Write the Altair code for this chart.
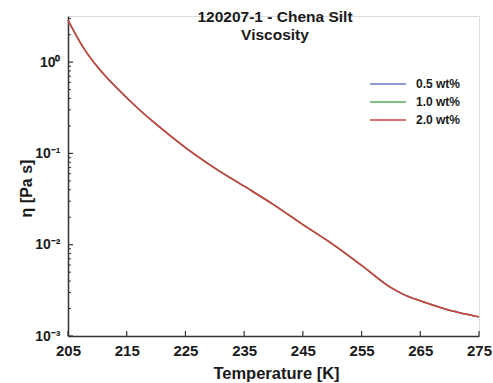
import altair as alt
import pandas as pd

# ---- data ----
temperature = [205, 207.5, 210, 212.5, 215, 217.5, 220, 225, 230, 235, 240, 245,
               250, 255, 260, 262.5, 265, 267.5, 270, 272.5, 275]
eta_05 = [2.88, 1.48, 0.89, 0.589, 0.407, 0.288, 0.209, 0.116, 0.0692, 0.0437, 0.0275,
          0.0166, 0.01023, 0.00594, 0.00339, 0.00279, 0.00243, 0.00214, 0.00191, 0.00175, 0.00162]
eta_10 = [2.88, 1.48, 0.89, 0.589, 0.407, 0.288, 0.209, 0.116, 0.0692, 0.0437, 0.0275,
          0.0166, 0.01023, 0.00594, 0.00339, 0.00279, 0.00243, 0.00214, 0.00191, 0.00175, 0.00162]
eta_20 = [2.88, 1.48, 0.89, 0.589, 0.407, 0.288, 0.209, 0.116, 0.0692, 0.0437, 0.0275,
          0.0166, 0.01023, 0.00594, 0.00339, 0.00279, 0.00243, 0.00214, 0.00191, 0.00175, 0.00162]
series_names = ["0.5 wt%", "1.0 wt%", "2.0 wt%"]
series_colors = ["#6a7cc4", "#57a85a", "#d2423f"]

x_ticks = [205, 215, 225, 235, 245, 255, 265, 275]
y_major = [0.001, 0.01, 0.1, 1]
y_major_labels = ["10⁻³", "10⁻²", "10⁻¹", "10⁰"]
y_minor = [0.002, 0.003, 0.004, 0.005, 0.006, 0.007, 0.008, 0.009,
           0.02, 0.03, 0.04, 0.05, 0.06, 0.07, 0.08, 0.09,
           0.2, 0.3, 0.4, 0.5, 0.6, 0.7, 0.8, 0.9, 2, 3]
title_text = "120207-1 - Chena Silt\nViscosity"

rows = []
for name, vals in zip(series_names, [eta_05, eta_10, eta_20]):
    for t, v in zip(temperature, vals):
        rows.append({"T": t, "eta": v, "series": name})
df = pd.DataFrame(rows)

FONT = "Liberation Sans"
AX = "#333333"
W, H = 411, 320

xscale = alt.Scale(domain=[205, 275], nice=False, zero=False)
yscale = alt.Scale(type="log", domain=[0.001, 3.2], nice=False)

label_expr = " : ".join(
    f"datum.value > {v * 0.5} ? '{l}'" for v, l in zip(reversed(y_major[1:]), reversed(y_major_labels[1:]))
) + f" : '{y_major_labels[0]}'"

lines = alt.Chart(df).mark_line(strokeWidth=1.5, interpolate="monotone").encode(
    x=alt.X("T:Q", scale=xscale,
            axis=alt.Axis(values=x_ticks, title="Temperature [K]", ticks=False, tickSize=0,
                          grid=False, domainColor=AX, domainWidth=1.5,
                          labelFont=FONT, labelFontSize=15, labelFontWeight="bold",
                          labelColor="#1a1a1a", labelPadding=7, labelFlush=False,
                          titleFont=FONT, titleFontSize=16.5, titleFontWeight="bold",
                          titleColor="#1a1a1a", titleX=208, titleY=42,
                          titleBaseline="alphabetic", titleAlign="center")),
    y=alt.Y("eta:Q", scale=yscale,
            axis=alt.Axis(values=y_major, labelExpr=label_expr, title="η [Pa s]",
                          ticks=False, tickSize=0, grid=False, domainColor=AX, domainWidth=1.5,
                          labelFont=FONT, labelFontSize=14, labelFontWeight="bold",
                          labelColor="#1a1a1a", labelPadding=8,
                          titleFont=FONT, titleFontSize=16, titleFontWeight="bold",
                          titleColor="#1a1a1a", titleX=-42, titleY=172, titleAngle=270,
                          titleBaseline="middle", titleAlign="center")),
    color=alt.Color("series:N",
                    scale=alt.Scale(domain=series_names, range=series_colors),
                    legend=alt.Legend(title=None, orient="none", legendX=313, legendY=61,
                                      symbolType="M-3,0H3", symbolSize=144,
                                      symbolStrokeWidth=1.5, labelOffset=21,
                                      rowPadding=5, padding=0,
                                      labelFont=FONT, labelFontSize=12,
                                      labelFontWeight="bold", labelColor="#1a1a1a")),
)

xt = alt.Chart(pd.DataFrame({"T": x_ticks})).mark_rule(color=AX, strokeWidth=1.2).encode(
    x=alt.X("T:Q", scale=xscale), y=alt.value(H), y2=alt.value(H - 5))
ymaj = alt.Chart(pd.DataFrame({"v": y_major})).mark_rule(color=AX, strokeWidth=1.2).encode(
    y=alt.Y("v:Q", scale=yscale), x=alt.value(0), x2=alt.value(5))
ymin = alt.Chart(pd.DataFrame({"v": y_minor})).mark_rule(color=AX, strokeWidth=1).encode(
    y=alt.Y("v:Q", scale=yscale), x=alt.value(0), x2=alt.value(3))

title = alt.Chart(pd.DataFrame({"t": [title_text]})).mark_text(
    font=FONT, fontSize=15.5, fontWeight="bold", color="#1a1a1a", align="center",
    baseline="alphabetic", lineBreak="\n", lineHeight=18).encode(
    text="t:N", x=alt.value(207), y=alt.value(6))

chart = alt.layer(lines, xt, ymaj, ymin, title).properties(
    width=W, height=H,
    autosize=alt.AutoSizeParams(type="none"),
    padding={"left": 68, "top": 16, "right": 14, "bottom": 47},
).configure_view(stroke=None).configure(background="white")

chart.save("out.html", embed_options={"renderer": "svg", "actions": False})
